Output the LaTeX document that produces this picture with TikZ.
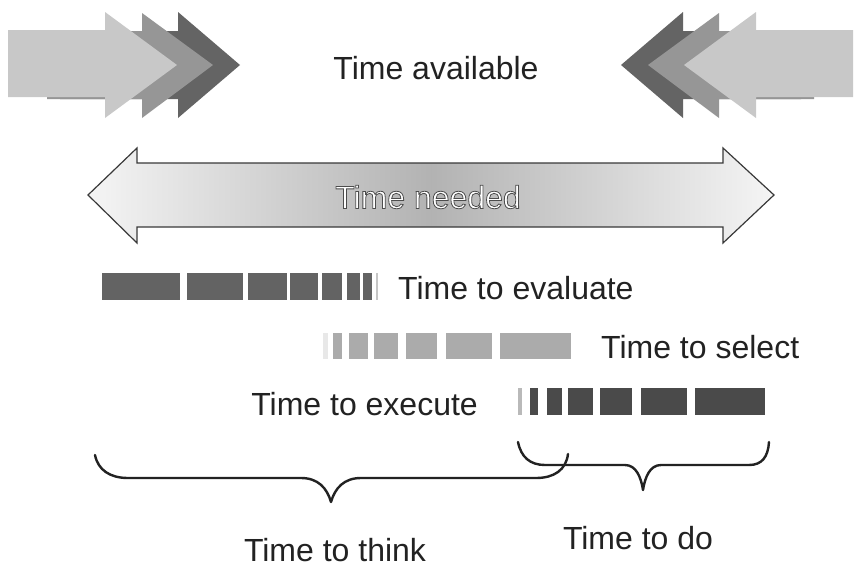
\documentclass[tikz,border=0pt]{standalone}
\usepackage{fontspec}
\setmainfont{Liberation Sans}
\definecolor{arLight}{HTML}{C8C8C8}
\definecolor{arMid}{HTML}{969696}
\definecolor{arDark}{HTML}{646464}
\definecolor{ink}{HTML}{222222}
\definecolor{barEval}{HTML}{636363}
\definecolor{barSel}{HTML}{ABABAB}
\definecolor{barExe}{HTML}{4A4A4A}
\newcommand\myarrowset{%
  \fill[arDark] (60,31) -- (178,31) -- (178,12) -- (240,65) -- (178,118) -- (178,99) -- (60,99) -- cycle;
  \fill[arMid] (47,31) -- (142,31) -- (142,13) -- (213,65) -- (142,118) -- (142,99) -- (47,99) -- cycle;
  \fill[arLight] (8,30) -- (105,30) -- (105,12) -- (177,65) -- (105,118) -- (105,97) -- (8,97) -- cycle;
}
\newcommand\outlinedtext[1]{\special{pdf:literal direct 2 Tr 0.8 w 0.3 G}#1\special{pdf:literal direct 0 Tr}}
\begin{document}
\begin{tikzpicture}[x=1pt,y=-1pt,
  lbl/.style={font=\fontsize{32}{36}\selectfont, text=ink, inner sep=0pt},
  brace/.style={draw=ink, line width=2.4pt, line cap=round, line join=round}]
\useasboundingbox (0,0) rectangle (857,581);
\fill[white] (0,0) rectangle (857,581);

% top arrows
\myarrowset
\begin{scope}[xshift=861pt,xscale=-1]
\myarrowset
\end{scope}
\node[lbl] (avail) at (436,68) {Time available};

% double arrow
\shade[left color=gray!8, right color=gray!8, middle color=gray!60, draw=gray!45!black, line width=1.2pt]
  (88,195) -- (137,148) -- (137,163) -- (723,163) -- (723,148) -- (774,195)
  -- (723,243) -- (723,227) -- (137,227) -- (137,243) -- cycle;
\node[lbl,text=white] (needed) at (428,197) {\outlinedtext{Time needed}};

% bars: evaluate
\foreach \a/\b in {102/180,187/243,248/287,290/318,322/342,347/360,363/372}
  \fill[barEval] (\a,273) rectangle (\b,300);
\fill[gray!45] (376,273) rectangle (378,300);
\node[lbl,anchor=west] (eval) at (398,288) {Time to evaluate};

% bars: select
\fill[gray!18] (323,333) rectangle (328,359);
\foreach \a/\b in {333/342,349/368,374/398,406/437,446/492,500/571}
  \fill[barSel] (\a,333) rectangle (\b,359);
\node[lbl,anchor=west] (sel) at (601,347) {Time to select};

% bars: execute
\fill[gray!55] (518,388) rectangle (522,415);
\foreach \a/\b in {530/538,547/562,568/593,600/632,641/687,695/765}
  \fill[barExe] (\a,388) rectangle (\b,415);
\node[lbl,anchor=east] (exe) at (478,404) {Time to execute};

% braces
\draw[brace] (95,455) .. controls (98,470) and (110,478) .. (128,478) -- (301,478)
  .. controls (318,478) and (327,488) .. (331,502)
  .. controls (335,488) and (344,478) .. (361,478) -- (536,478)
  .. controls (554,478) and (566,470) .. (568,454);
\draw[brace] (518,442) .. controls (521,457) and (530,465) .. (545,465) -- (625,465)
  .. controls (636,465) and (641,477) .. (643,490)
  .. controls (645,477) and (650,465) .. (661,465) -- (749,465)
  .. controls (762,465) and (768,457) .. (769,442);
\node[lbl] (think) at (335,550) {Time to think};
\node[lbl] (todo) at (638,538) {Time to do};
\end{tikzpicture}
\end{document}
